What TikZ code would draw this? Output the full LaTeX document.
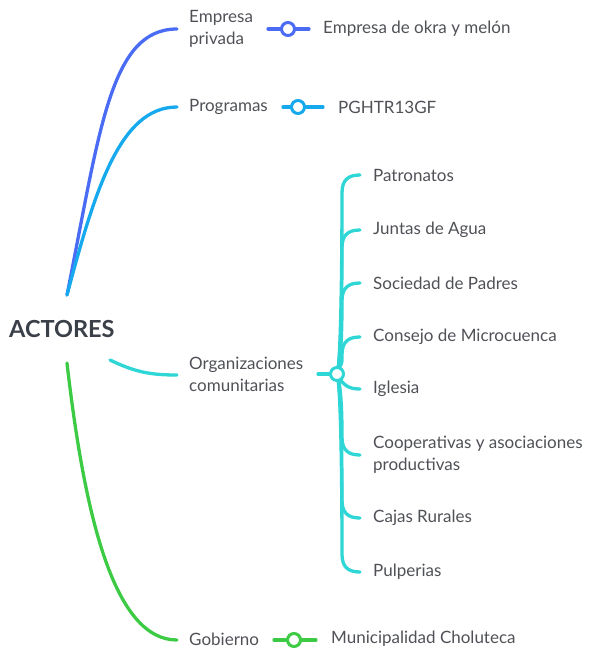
\documentclass[tikz,border=0pt]{standalone}
\usepackage{fontspec}
\setmainfont{Lato}
\usetikzlibrary{calc}
\definecolor{cblue}{HTML}{4A6CF4}
\definecolor{clight}{HTML}{17A9EE}
\definecolor{ccyan}{HTML}{2ED6D6}
\definecolor{cgreen}{HTML}{3DCB45}
\definecolor{ctext}{HTML}{4F5156}
\definecolor{croot}{HTML}{3A3F48}
\begin{document}
\begin{tikzpicture}[x=1pt,y=-1pt,
  lbl/.style={anchor=west,inner sep=0pt,text=ctext,font=\fontsize{17}{22}\selectfont,align=left},
  edge/.style={line width=3.3pt,line cap=round},
  knob/.style={circle,draw,fill=white,line width=3pt,minimum size=13pt,inner sep=0pt}]
\useasboundingbox (0,0) rectangle (589,649);

% root
\node[anchor=west,inner sep=0pt,text=croot,font=\fontsize{23.5}{27}\bfseries\selectfont] (root) at (9,329) {ACTORES};
\coordinate (rtop) at (67,295);
\coordinate (rbot) at (67,363);
\coordinate (rmid) at (110,360);

% first level
\node[lbl] (emp) at (189,29) {Empresa\\privada};
\node[lbl] (prog) at (189,107) {Programas};
\node[lbl] (org) at (189,374) {Organizaciones\\comunitarias};
\node[lbl] (gob) at (189,639) {Gobierno};
\coordinate (empin) at (177,29);
\coordinate (progin) at (177,107);
\coordinate (orgin) at (177,375);
\coordinate (gobin) at (177,640);

\draw[edge,cblue] (rtop) .. controls (100,130) and (110,29) .. (empin);
\draw[edge,clight] (rtop) .. controls (95,190) and (120,107) .. (progin);
\draw[edge,ccyan] (rmid) .. controls (135,372) and (150,375) .. (orgin);
\draw[edge,cgreen] (rbot) .. controls (85,520) and (115,640) .. (gobin);

% second level: single children
\node[knob,draw=cblue] (k1) at (288,29) {};
\node[lbl] (c1) at (323,29) {Empresa de okra y melón};
\draw[edge,cblue] (268,29) coordinate (k1a) -- (k1);
\draw[edge,cblue] (k1) -- (309,29) coordinate (k1b);

\node[knob,draw=clight] (k2) at (298,107) {};
\node[lbl] (c2) at (338,107) {PGHTR13GF};
\draw[edge,clight] (283,107) coordinate (k2a) -- (k2);
\draw[edge,clight] (k2) -- (323,107) coordinate (k2b);

\node[knob,draw=cgreen] (k4) at (294,640) {};
\node[lbl] (c4) at (331,639) {Municipalidad Choluteca};
\draw[edge,cgreen] (274,640) coordinate (k4a) -- (k4);
\draw[edge,cgreen] (k4) -- (316,640) coordinate (k4b);

% second level: community organisations
\draw[edge,ccyan] (318,374) coordinate (k3a) -- (337,374);
\foreach \y/\n/\t in {175/o1/Patronatos, 230/o2/Juntas de Agua, 283/o3/Sociedad de Padres,
                      337/o4/Consejo de Microcuenca} {
  \node[lbl] (\n) at (373,\y) {\t};
  \coordinate (\n e) at (360,\y);
  \draw[edge,ccyan] (337,374) .. controls (342,360) and (342,\y+30) .. (342,\y+18)
        .. controls (342,\y+5) and (348,\y) .. (\n e);
}
\foreach \y/\n/\t in {455/o6/{Cooperativas y asociaciones\\productivas}, 518/o7/Cajas Rurales, 572/o8/Pulperias} {
  \node[lbl] (\n) at (373,\y) {\t};
  \coordinate (\n e) at (360,\y);
  \draw[edge,ccyan] (337,374) .. controls (342,388) and (342,\y-30) .. (342,\y-18)
        .. controls (342,\y-5) and (348,\y) .. (\n e);
}
\node[lbl] (o5) at (373,389) {Iglesia};
\coordinate (o5e) at (360,389);
\draw[edge,ccyan] (337,374) .. controls (343,385) and (348,389) .. (o5e);

\node[knob,draw=ccyan] (k3) at (337,374) {};
\end{tikzpicture}
\end{document}
